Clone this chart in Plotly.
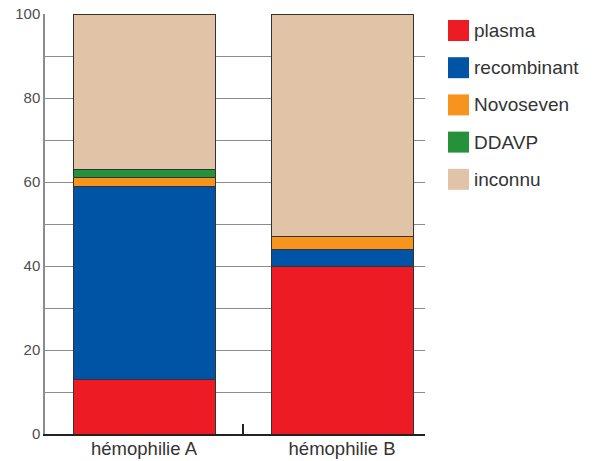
import plotly.graph_objects as go

# Treatment type share (%) by haemophilia type
categories = ["hémophilie A", "hémophilie B"]
series_names = ["plasma", "recombinant", "Novoseven", "DDAVP", "inconnu"]
plasma = [13, 40]
recombinant = [46, 4]
novoseven = [2, 3]
ddavp = [2, 0]
inconnu = [37, 53]
series_values = [plasma, recombinant, novoseven, ddavp, inconnu]
colors = ["#ED1C24", "#0054A6", "#F7941D", "#25913A", "#E1C4A8"]
y_ticks = [0, 10, 20, 30, 40, 50, 60, 70, 80, 90, 100]
y_ticktext = ["0", "", "20", "", "40", "", "60", "", "80", "", "100"]

FONT = "Liberation Sans"

fig = go.Figure()
for name, vals, col in zip(series_names, series_values, colors):
    fig.add_trace(go.Bar(
        x=categories, y=vals, name=name,
        marker=dict(color=col, line=dict(color="#333333", width=1)),
        width=0.717, showlegend=False,
    ))

# Custom legend: large square swatches with labels to the right of the plot
row_top = 30.5      # px from top of figure for first row centre
row_step = 37.2     # px between rows
plot_top, plot_h = 14, 420
for i, (name, col) in enumerate(zip(series_names, colors)):
    cy = row_top + i * row_step
    y_mid = (plot_top + plot_h - cy) / plot_h
    half = 10.5 / plot_h
    fig.add_shape(type="rect", xref="paper", yref="paper",
                  x0=(448 - 45) / 380, x1=(469 - 45) / 380,
                  y0=y_mid - half, y1=y_mid + half,
                  fillcolor=col, line=dict(width=0))
    fig.add_annotation(xref="paper", yref="paper",
                       x=(472 - 45) / 380, y=y_mid,
                       xanchor="left", yanchor="middle", showarrow=False,
                       text=name, font=dict(family=FONT, size=19, color="#333333"))

fig.update_layout(
    barmode="stack",
    width=602, height=461,
    margin=dict(l=45, r=177, t=14, b=27),
    plot_bgcolor="white", paper_bgcolor="white",
    font=dict(family=FONT),
    xaxis=dict(
        type="category", range=[-0.5, 1.419], automargin=False,
        showgrid=False, showline=True, linecolor="#222222", linewidth=2,
        ticks="inside", tickson="boundaries", ticklen=10, tickcolor="#222222", tickwidth=2,
        ticklabelstandoff=-3,
        tickfont=dict(family=FONT, size=18.5, color="#333333"),
    ),
    yaxis=dict(
        range=[0, 100], tickvals=y_ticks, ticktext=y_ticktext, automargin=False,
        showgrid=True, gridcolor="#8c8c8c", gridwidth=1.3,
        showline=True, linecolor="#8c8c8c", linewidth=1.5,
        ticks="", zeroline=False,
        tickfont=dict(family=FONT, size=15, color="#4d4d4d"),
    ),
)

fig.write_html("out.html")
